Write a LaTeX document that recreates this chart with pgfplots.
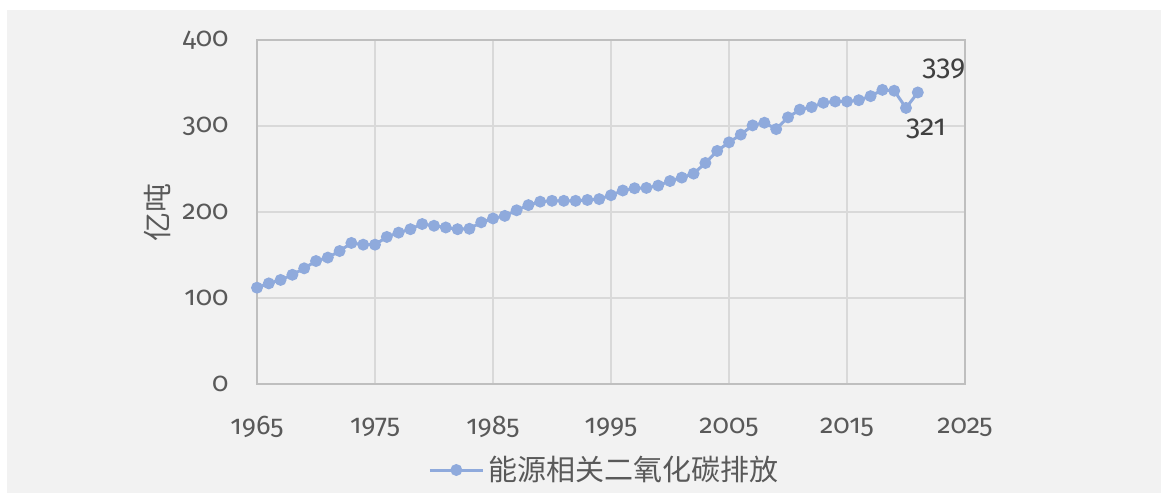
\documentclass[border=0pt]{standalone}
\usepackage{fontspec}
\setmainfont{Fira Sans}[Numbers=OldStyle]
\newfontfamily\cjk{Noto Sans CJK SC}
\usepackage{pgfplots}
\pgfplotsset{compat=1.18}
\definecolor{bgc}{HTML}{F2F2F2}
\definecolor{gridc}{HTML}{D9D9D9}
\definecolor{axc}{HTML}{BFBFBF}
\definecolor{txt}{HTML}{595959}
\definecolor{lbl}{HTML}{404040}
\definecolor{co2}{HTML}{8FAADC}

\begin{document}
\begin{tikzpicture}
% page 1161x493 px at 0.5pt per px
\path[fill=white, use as bounding box] (0,0) rectangle (580.5pt,246.5pt);
\fill[bgc] (3.5pt,0) rectangle (580.5pt,241.5pt);

\begin{axis}[
  at={(128.5pt,54.5pt)}, anchor=south west,
  scale only axis, width=354pt, height=172pt,
  clip=false,
  xmin=1965, xmax=2025, ymin=0, ymax=400,
  xtick={1965,1975,...,2025}, ytick={0,100,...,400},
  grid=major, major grid style={gridc, line width=0.6pt},
  axis line style={axc, line width=0.6pt},
  major tick length=0pt,
  tick label style={font=\fontsize{13.5}{15}\selectfont, text=txt},
  /pgf/number format/assume math mode=true,
  /pgf/number format/1000 sep={},
  yticklabel style={anchor=east, inner sep=0pt, xshift=-14pt},
  xticklabel style={anchor=center, inner sep=0pt, yshift=-21.5pt},
  legend style={at={(0.492,0)}, anchor=center, yshift=-43pt,
    draw=none, fill=none, font=\cjk\fontsize{14.5}{16}\selectfont,
    text=txt, inner sep=0pt},
  legend cell align=left,
  legend image code/.code={%
    \draw[#1, mark repeat=2, mark phase=2]
      plot coordinates {(0pt,0pt) (13.25pt,0pt) (26.5pt,0pt)};},
]
\addplot[co2, line width=1.5pt, mark=*, mark size=2.2pt,
  mark options={fill=co2, draw=co2}] coordinates {
  (1965,112) (1966,117) (1967,121) (1968,127) (1969,134.5)
  (1970,143) (1971,147) (1972,154.6) (1973,164) (1974,162)
  (1975,162) (1976,171) (1977,176) (1978,180) (1979,186)
  (1980,184) (1981,182) (1982,180) (1983,180.5) (1984,188)
  (1985,192.5) (1986,195.5) (1987,202) (1988,208) (1989,212)
  (1990,213) (1991,213) (1992,213) (1993,214) (1994,215)
  (1995,219.5) (1996,225) (1997,227.6) (1998,228) (1999,230.7)
  (2000,236) (2001,240) (2002,244.6) (2003,257) (2004,271)
  (2005,281) (2006,290) (2007,300.7) (2008,303.8) (2009,296.4)
  (2010,310) (2011,319) (2012,322) (2013,327) (2014,328.5)
  (2015,328.5) (2016,330) (2017,334.7) (2018,342) (2019,341)
  (2020,321) (2021,339)};
\addlegendentry{能源相关二氧化碳排放}

\node[font=\fontsize{14.5}{16}\selectfont, text=lbl, inner sep=0pt]
  at ([xshift=13pt, yshift=12pt]axis cs:2021,339) {339};
\node[font=\fontsize{14.5}{16}\selectfont, text=lbl, inner sep=0pt]
  at ([xshift=10pt, yshift=-10.5pt]axis cs:2020,321) {321};
\node[font=\cjk\fontsize{14.5}{16}\selectfont, text=txt, rotate=90,
  inner sep=0pt] at ([xshift=-50pt]rel axis cs:0,0.5) {亿吨};
\end{axis}
\end{tikzpicture}
\end{document}
